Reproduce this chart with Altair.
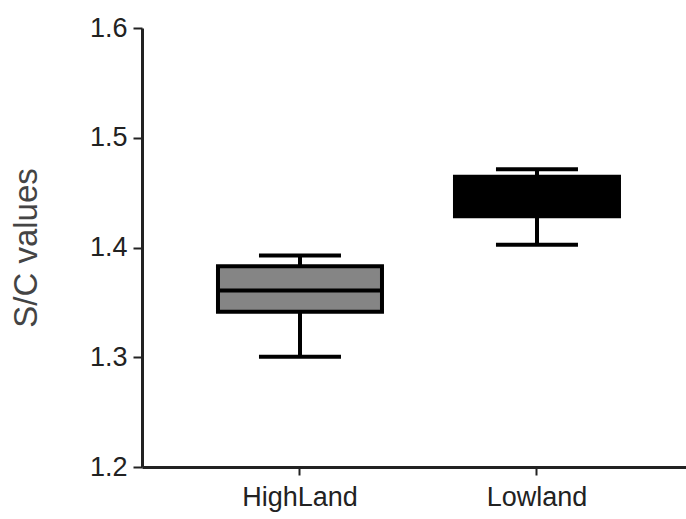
import altair as alt
import pandas as pd

categories = ["HighLand", "Lowland"]
mins = [1.3005, 1.4025]
q1s = [1.3415, 1.4285]
medians = [1.3608, 1.4450]
q3s = [1.3830, 1.4645]
maxs = [1.3928, 1.4712]
fills = ["#858585", "#000000"]

df = pd.DataFrame({
    "group": categories,
    "min": mins,
    "q1": q1s,
    "median": medians,
    "q3": q3s,
    "max": maxs,
    "fill": fills,
})

FONT = "Liberation Sans"

x = alt.X(
    "group:N",
    sort=categories,
    scale=alt.Scale(paddingInner=0, paddingOuter=0.1477, align=0.564),
    axis=alt.Axis(
        title=None, labelAngle=0, labelFont=FONT, labelFontSize=27,
        labelColor="#222222", labelPadding=9, tickSize=8, tickWidth=2,
        tickColor="#222222", domainColor="#222222", domainWidth=3, grid=False,
    ),
)
yscale = alt.Scale(domain=[1.2, 1.6], nice=False, zero=False)
yaxis = alt.Axis(
    values=[1.2, 1.3, 1.4, 1.5, 1.6], format=".1f", title="S/C values",
    labelFont=FONT, labelFontSize=27, labelColor="#222222", labelPadding=6,
    tickSize=9, tickWidth=2, tickColor="#222222", domainColor="#222222",
    domainWidth=3, grid=False, titleFont=FONT, titleFontSize=33,
    titleFontWeight="normal", titleColor="#444444", titlePadding=46,
)

base = alt.Chart(df)

whisker = base.mark_rule(color="black", strokeWidth=4).encode(
    x=x, y=alt.Y("min:Q", scale=yscale, axis=yaxis), y2="max:Q"
)
cap_lo = base.mark_tick(color="black", size=82, thickness=4, opacity=1).encode(
    x=x, y=alt.Y("min:Q", scale=yscale)
)
cap_hi = base.mark_tick(color="black", size=82, thickness=4, opacity=1).encode(
    x=x, y=alt.Y("max:Q", scale=yscale)
)
box = base.mark_bar(size=164, stroke="black", strokeWidth=4).encode(
    x=x, y=alt.Y("q1:Q", scale=yscale), y2="q3:Q",
    fill=alt.Fill("fill:N", scale=None),
)
med = base.mark_tick(color="black", size=164, thickness=4, opacity=1).encode(
    x=x, y=alt.Y("median:Q", scale=yscale)
)

chart = alt.layer(whisker, cap_lo, cap_hi, box, med).properties(
    width=544, height=439,
    autosize=alt.AutoSizeParams(type="none"),
    padding={"left": 142, "top": 28, "right": 0, "bottom": 52},
    background="white",
).configure_view(stroke=None)

chart.save("out.html", embed_options={"renderer": "svg", "actions": False})
